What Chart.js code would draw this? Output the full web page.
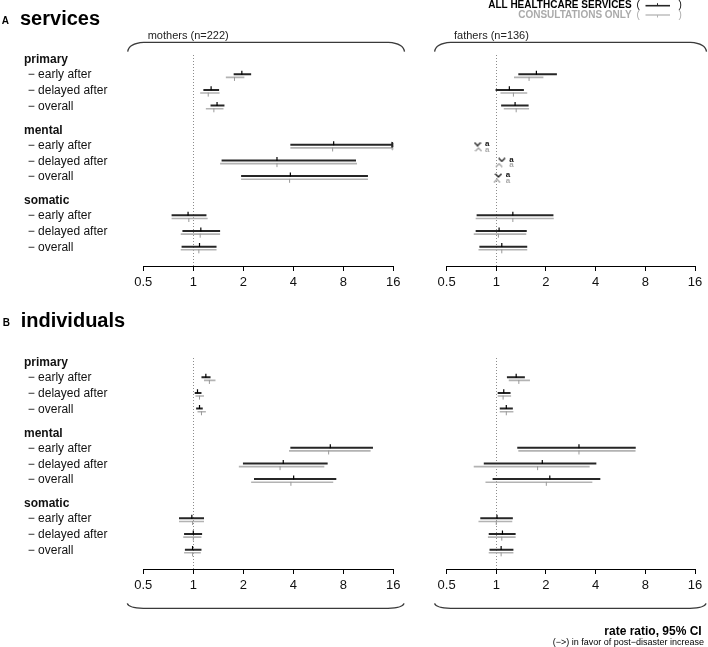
<!DOCTYPE html>
<html>
<head>
<meta charset="utf-8">
<script src="https://cdn.jsdelivr.net/npm/chart.js@4.4.1/dist/chart.umd.min.js"></script>
<style>
  body { margin: 0; background: #fff; }
  #page { position: relative; width: 708px; height: 647px; overflow: hidden; background: #fff; }
  canvas { position: absolute; }
</style>
</head>
<body>
<div id="page">
  <canvas id="aMothers" width="420" height="306" style="left:0;top:0"></canvas>
  <canvas id="aFathers" width="288" height="306" style="left:420px;top:0"></canvas>
  <canvas id="bMothers" width="420" height="344" style="left:0;top:303px"></canvas>
  <canvas id="bFathers" width="288" height="344" style="left:420px;top:303px"></canvas>
</div>
<script>
const categories = ["primary", "mental", "somatic"];
const periods = ["early after", "delayed after", "overall"];
const xTicks = [0.5, 1, 2, 4, 8, 16];

// [rate ratio, lower 95% CI, upper 95% CI]
// rows: primary (early, delayed, overall), mental (...), somatic (...)
const servicesMothersAll = [
  [1.96, 1.75, 2.23], [1.28, 1.15, 1.43], [1.39, 1.27, 1.54],
  [7.0, 3.84, 19], [3.19, 1.48, 9.54], [3.84, 1.94, 11.26],
  [0.93, 0.74, 1.20], [1.11, 0.86, 1.45], [1.09, 0.85, 1.38]
];
const servicesMothersCons = [
  [1.77, 1.57, 2.03], [1.23, 1.10, 1.44], [1.33, 1.19, 1.52],
  [6.9, 3.84, 19], [3.19, 1.45, 9.67], [3.80, 1.94, 11.26],
  [0.94, 0.74, 1.22], [1.10, 0.84, 1.45], [1.08, 0.84, 1.38]
];
const servicesFathersAll = [
  [1.75, 1.36, 2.33], [1.20, 0.99, 1.47], [1.30, 1.07, 1.57],
  [0.77, null, null], [1.08, null, null], [1.03, null, null],
  [1.26, 0.76, 2.22], [1.04, 0.75, 1.53], [1.08, 0.79, 1.54]
];
const servicesFathersCons = [
  [1.58, 1.28, 1.93], [1.27, 1.06, 1.54], [1.32, 1.11, 1.58],
  [0.78, null, null], [1.04, null, null], [1.01, null, null],
  [1.26, 0.75, 2.23], [1.03, 0.73, 1.52], [1.08, 0.78, 1.54]
];
const individualsMothersAll = [
  [1.19, 1.12, 1.27], [1.06, 1.02, 1.12], [1.09, 1.04, 1.14],
  [6.68, 3.84, 12.07], [3.48, 1.99, 6.44], [4.02, 2.32, 7.26],
  [0.98, 0.82, 1.16], [1.00, 0.88, 1.13], [0.99, 0.89, 1.12]
];
const individualsMothersCons = [
  [1.25, 1.16, 1.36], [1.09, 1.03, 1.16], [1.12, 1.06, 1.19],
  [6.53, 3.77, 11.68], [3.33, 1.88, 6.15], [3.87, 2.23, 6.96],
  [0.99, 0.82, 1.16], [1.00, 0.87, 1.12], [0.99, 0.88, 1.11]
];
const individualsFathersAll = [
  [1.32, 1.16, 1.49], [1.11, 1.02, 1.22], [1.15, 1.05, 1.26],
  [3.17, 1.34, 7.0], [1.90, 0.84, 4.04], [2.11, 0.95, 4.27],
  [1.01, 0.80, 1.26], [1.09, 0.90, 1.31], [1.07, 0.91, 1.27]
];
const individualsFathersCons = [
  [1.37, 1.19, 1.60], [1.10, 1.02, 1.23], [1.15, 1.05, 1.27],
  [3.17, 1.36, 6.98], [1.78, 0.73, 3.68], [2.01, 0.86, 3.82],
  [1.00, 0.78, 1.25], [1.08, 0.89, 1.31], [1.07, 0.90, 1.27]
];

const X_MIN = xTicks[0], X_MAX = xTicks[xTicks.length - 1];
const FONT = '"Liberation Sans", Arial, Helvetica, sans-serif';
const BLACK = "#262626";
const GREY = "#b3b3b3";
const GROUP_STEP = 4.5;        // rows between group starts (incl. header gap)
const DY_ALL = -0.05, DY_CONS = 0.15;

const rowPos = (i) => Math.floor(i / periods.length) * GROUP_STEP + (i % periods.length);

function ciPoints(rows, dy) {
  const pts = [];
  rows.forEach((r, i) => {
    if (r[1] == null) return;
    const y = rowPos(i) + dy;
    pts.push({ x: r[1], y }, { x: Math.min(r[2], X_MAX), y }, { x: NaN, y: NaN });
  });
  return pts;
}
const estPoints = (rows, dy) =>
  rows.map((r, i) => (r[1] == null ? null : { x: r[0], y: rowPos(i) + dy })).filter(Boolean);
const arrowPoints = (rows, dy) =>
  rows.map((r, i) => (r[2] != null && r[2] > X_MAX ? { x: X_MAX, y: rowPos(i) + dy } : null)).filter(Boolean);
const noCiPoints = (rows, dy) =>
  rows.map((r, i) => (r[1] == null ? { x: r[0], y: rowPos(i) + dy } : null)).filter(Boolean);

function chevron(color, up) {
  const c = document.createElement("canvas");
  c.width = 8; c.height = 5;
  const g = c.getContext("2d");
  g.strokeStyle = color; g.lineWidth = 1.4;
  g.beginPath();
  if (up) { g.moveTo(0.8, 4.2); g.lineTo(4, 1); g.lineTo(7.2, 4.2); }
  else { g.moveTo(0.8, 0.8); g.lineTo(4, 4); g.lineTo(7.2, 0.8); }
  g.stroke();
  return c;
}
const vMark = chevron(BLACK, false);
const caretMark = chevron("#a8a8a8", true);

function text(ctx, str, x, y, font, color, align, baseline) {
  ctx.font = font;
  ctx.fillStyle = color;
  ctx.textAlign = align || "left";
  ctx.textBaseline = baseline || "middle";
  ctx.fillText(str, x, y);
}

function brace(ctx, x0, x1, yTip, yLine) {
  const d = yLine - yTip;
  ctx.beginPath();
  ctx.moveTo(x0, yTip);
  ctx.quadraticCurveTo(x0 + 1, yTip + d * 0.9, x0 + 16, yLine);
  ctx.lineTo(x1 - 16, yLine);
  ctx.quadraticCurveTo(x1 - 1, yTip + d * 0.9, x1, yTip);
  ctx.strokeStyle = "#3a3a3a";
  ctx.lineWidth = 1.3;
  ctx.stroke();
}

function rowLabels(chart, ctx) {
  const y = chart.scales.y;
  categories.forEach((cat, g) => {
    text(ctx, cat, 24, y.getPixelForValue(g * GROUP_STEP - 0.96), "bold 12px " + FONT, "#111");
    periods.forEach((p, i) => {
      text(ctx, "\u2212 " + p, 27.7, y.getPixelForValue(g * GROUP_STEP + i), "12px " + FONT, "#111");
    });
  });
}

const footnotePlugin = {
  id: "footnote",
  afterDatasetsDraw(chart) {
    const ctx = chart.ctx;
    chart.data.datasets.forEach((ds, di) => {
      if (!ds.noteMark) return;
      const ref = chart.getDatasetMeta(ds.noteAnchor).data;
      chart.getDatasetMeta(di).data.forEach((el, k) => {
        text(ctx, ds.noteMark, ref[k].x + 9.7, el.y + ds.noteDy, "bold 8px " + FONT, ds.noteColor, "center");
      });
    });
  }
};

function makeForest(id, allRows, consRows, pad, decorate) {
  const datasets = [
    { data: estPoints(allRows, DY_ALL - 0.1), pointStyle: "line", pointRotation: 90, pointRadius: 2,
      pointBorderColor: "#000", pointBorderWidth: 1.2 },
    { data: estPoints(consRows, DY_CONS + 0.1), pointStyle: "line", pointRotation: 90, pointRadius: 2,
      pointBorderColor: "#999", pointBorderWidth: 1 },
    { data: arrowPoints(allRows, DY_ALL), pointStyle: "triangle", pointRotation: 90, pointRadius: 3,
      pointBackgroundColor: BLACK, pointBorderColor: BLACK, pointBorderWidth: 1 },
    { data: arrowPoints(consRows, DY_CONS), pointStyle: "triangle", pointRotation: 90, pointRadius: 2.5,
      pointBackgroundColor: GREY, pointBorderColor: GREY, pointBorderWidth: 1 },
    { data: ciPoints(allRows, DY_ALL), showLine: true, spanGaps: false, borderColor: BLACK,
      borderWidth: 2, pointRadius: 0 },
    { data: ciPoints(consRows, DY_CONS), showLine: true, spanGaps: false, borderColor: GREY,
      borderWidth: 1.6, pointRadius: 0 },
    { data: noCiPoints(allRows, DY_ALL - 0.04), pointStyle: vMark, pointRadius: 4,
      noteMark: "a", noteAnchor: 6, noteDy: -0.5, noteColor: "#111" },
    { data: noCiPoints(consRows, DY_CONS + 0.1), pointStyle: caretMark, pointRadius: 4,
      noteMark: "a", noteAnchor: 6, noteDy: 0, noteColor: "#aaa" }
  ];

  return new Chart(document.getElementById(id), {
    type: "scatter",
    data: { datasets },
    options: {
      responsive: false,
      animation: false,
      devicePixelRatio: 1,
      layout: { padding: pad },
      plugins: { legend: { display: false }, tooltip: { enabled: false } },
      scales: {
        x: {
          type: "logarithmic",
          min: X_MIN,
          max: X_MAX,
          afterBuildTicks: (s) => { s.ticks = xTicks.map((v) => ({ value: v })); },
          afterFit: (s) => { s.height = 40; },
          ticks: {
            autoSkip: false, maxRotation: 0, padding: 4, color: "#111",
            font: { family: FONT, size: 13 },
            callback: (v) => String(v)
          },
          grid: {
            drawOnChartArea: true, drawTicks: true, tickLength: 5,
            tickColor: "#000", tickWidth: 1, lineWidth: 1,
            color: (c) => (c.tick && c.tick.value === 1 ? "#8c8c8c" : "rgba(0,0,0,0)")
          },
          border: { display: true, color: "#000", width: 1, dash: [1, 2] }
        },
        y: { type: "linear", reverse: true, min: -1.278, max: 12.185, display: false }
      }
    },
    plugins: [footnotePlugin, { id: "decor", afterDraw(chart) {
      const ctx = chart.ctx; ctx.save(); decorate(chart, ctx); ctx.restore();
    } }]
  });
}

// A: services
makeForest("aMothers", servicesMothersAll, servicesMothersCons,
  { left: 143.3, right: 26.7, top: 55, bottom: 0 },
  (chart, ctx) => {
    text(ctx, "A", 1.7, 24, "bold 10px " + FONT, "#000", "left", "alphabetic");
    text(ctx, "services", 20, 25, "bold 20px " + FONT, "#000", "left", "alphabetic");
    text(ctx, "mothers (n=222)", 147.7, 35.8, "11px " + FONT, "#222");
    brace(ctx, 127.7, 404.5, 51.7, 42.3);
    rowLabels(chart, ctx);
  });

makeForest("aFathers", servicesFathersAll, servicesFathersCons,
  { left: 26.6, right: 13, top: 55, bottom: 0 },
  (chart, ctx) => {
    text(ctx, "fathers (n=136)", 34, 35.8, "11px " + FONT, "#222");
    brace(ctx, 14.6, 286.5, 51.7, 42.3);
    // legend
    text(ctx, "ALL HEALTHCARE SERVICES", 211.7, 7.6, "bold 10px " + FONT, "#000", "right", "alphabetic");
    text(ctx, "CONSULTATIONS ONLY", 211.7, 18.4, "bold 10px " + FONT, "#aaa", "right", "alphabetic");
    text(ctx, "(", 216.5, 7.6, "10px " + FONT, "#000", "left", "alphabetic");
    text(ctx, ")", 258.5, 7.6, "10px " + FONT, "#000", "left", "alphabetic");
    text(ctx, "(", 216.5, 18.4, "10px " + FONT, "#aaa", "left", "alphabetic");
    text(ctx, ")", 258.5, 18.4, "10px " + FONT, "#aaa", "left", "alphabetic");
    ctx.lineWidth = 1.6; ctx.strokeStyle = BLACK;
    ctx.beginPath(); ctx.moveTo(225.5, 5.7); ctx.lineTo(250, 5.7); ctx.stroke();
    ctx.lineWidth = 1; ctx.beginPath(); ctx.moveTo(237.5, 5.7); ctx.lineTo(237.5, 3.2); ctx.stroke();
    ctx.lineWidth = 1.3; ctx.strokeStyle = GREY;
    ctx.beginPath(); ctx.moveTo(225.5, 15); ctx.lineTo(250, 15); ctx.stroke();
    ctx.lineWidth = 1; ctx.beginPath(); ctx.moveTo(237.5, 15); ctx.lineTo(237.5, 17.5); ctx.stroke();
  });

// B: individuals
makeForest("bMothers", individualsMothersAll, individualsMothersCons,
  { left: 143.3, right: 26.7, top: 55, bottom: 38 },
  (chart, ctx) => {
    text(ctx, "B", 2.7, 23, "bold 10px " + FONT, "#000", "left", "alphabetic");
    text(ctx, "individuals", 20.7, 24, "bold 20px " + FONT, "#000", "left", "alphabetic");
    brace(ctx, 127.3, 404, 300.3, 305.3);
    rowLabels(chart, ctx);
  });

makeForest("bFathers", individualsFathersAll, individualsFathersCons,
  { left: 26.6, right: 13, top: 55, bottom: 38 },
  (chart, ctx) => {
    brace(ctx, 14.6, 286, 300.3, 305.3);
    text(ctx, "rate ratio, 95% CI", 281.7, 328.6, "bold 12px " + FONT, "#000", "right");
    text(ctx, "(\u2212>) in favor of post\u2212disaster increase", 284, 339.5, "9px " + FONT, "#000", "right");
  });
</script>
</body>
</html>
